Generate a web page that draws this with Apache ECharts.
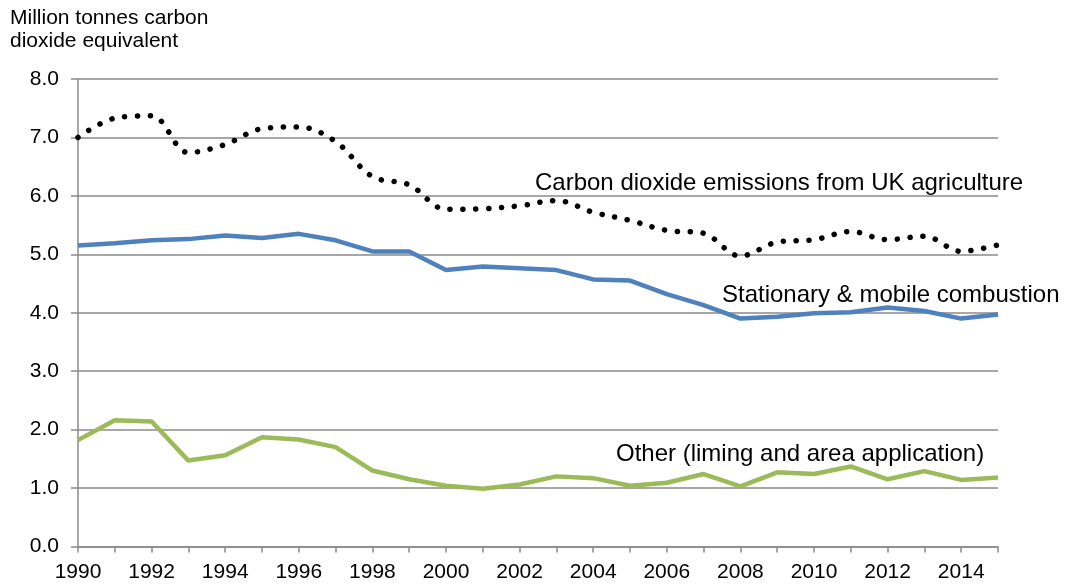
<!DOCTYPE html>
<html>
<head>
<meta charset="utf-8">
<script src="https://cdn.jsdelivr.net/npm/echarts@6/dist/echarts.min.js"></script>
<style>
  html, body { margin: 0; padding: 0; background: #fff; }
  #chart { width: 1065px; height: 587px; }
</style>
</head>
<body>
<div id="chart"></div>
<script>
const years = ['1990', '1991', '1992', '1993', '1994', '1995', '1996', '1997', '1998', '1999',
  '2000', '2001', '2002', '2003', '2004', '2005', '2006', '2007', '2008', '2009',
  '2010', '2011', '2012', '2013', '2014', '2015']

// total CO2 from agriculture (dotted)
const totalEmissions = [7.00, 7.33, 7.37, 6.74, 6.88, 7.15, 7.18, 6.93, 6.33, 6.19,
  5.77, 5.78, 5.83, 5.92, 5.72, 5.58, 5.41, 5.36, 4.97, 5.21,
  5.25, 5.39, 5.25, 5.31, 5.05, 5.16]

const combustion = [5.15, 5.19, 5.24, 5.26, 5.32, 5.28, 5.35, 5.24, 5.05, 5.05,
  4.73, 4.79, 4.76, 4.73, 4.57, 4.55, 4.32, 4.13, 3.90, 3.93,
  3.99, 4.01, 4.09, 4.03, 3.90, 3.97]

const other = [1.82, 2.16, 2.14, 1.47, 1.56, 1.87, 1.83, 1.70, 1.30, 1.15,
  1.04, 0.99, 1.06, 1.20, 1.17, 1.04, 1.09, 1.24, 1.03, 1.27,
  1.24, 1.37, 1.15, 1.29, 1.14, 1.18]

const font = 'Liberation Sans, Arial, sans-serif'
const gridGrey = '#8a8a8a'

const chart = echarts.init(document.getElementById('chart'))

chart.setOption({
  animation: false,
  backgroundColor: '#fff',
  grid: { left: 78, right: 67, top: 79, bottom: 40.5 },
  xAxis: {
    type: 'category',
    data: years,
    boundaryGap: false,
    axisLine: { lineStyle: { color: gridGrey, width: 1.5 } },
    axisTick: { interval: 0, length: 6, lineStyle: { color: gridGrey, width: 1.5 } },
    axisLabel: { interval: 1, color: '#000', fontFamily: font, fontSize: 21, margin: 15 },
    splitLine: { show: false },
  },
  yAxis: {
    type: 'value',
    min: 0,
    max: 8,
    interval: 1,
    axisLine: { show: true, lineStyle: { color: gridGrey, width: 1.5 } },
    axisTick: { show: true, length: 7, lineStyle: { color: gridGrey, width: 1.5 } },
    axisLabel: {
      color: '#000', fontFamily: font, fontSize: 21, margin: 19,
      formatter: (v) => v.toFixed(1),
    },
    splitLine: { lineStyle: { color: gridGrey, width: 1.5 } },
  },
  series: [
    {
      name: 'Carbon dioxide emissions from UK agriculture',
      type: 'line',
      data: totalEmissions,
      smooth: 0.35,
      symbol: 'none',
      lineStyle: { color: '#000', width: 5.5, type: [0.1, 12.8], cap: 'round' },
      z: 3,
    },
    {
      name: 'Stationary & mobile combustion',
      type: 'line',
      data: combustion,
      symbol: 'none',
      lineStyle: { color: '#4f81bd', width: 4.5 },
    },
    {
      name: 'Other (liming and area application)',
      type: 'line',
      data: other,
      symbol: 'none',
      lineStyle: { color: '#9bbb59', width: 4.5 },
    },
  ],
  graphic: [
    {
      type: 'text', left: 10, top: 7,
      style: { text: 'Million tonnes carbon\ndioxide equivalent', fontFamily: font, fontSize: 21, lineHeight: 23, fill: '#000' },
    },
    {
      type: 'text', x: 535, y: 183,
      style: { text: 'Carbon dioxide emissions from UK agriculture', fontFamily: font, fontSize: 24, fill: '#000', verticalAlign: 'middle' },
    },
    {
      type: 'text', x: 722, y: 295,
      style: { text: 'Stationary & mobile combustion', fontFamily: font, fontSize: 24, fill: '#000', verticalAlign: 'middle' },
    },
    {
      type: 'text', x: 616, y: 454,
      style: { text: 'Other (liming and area application)', fontFamily: font, fontSize: 24, fill: '#000', verticalAlign: 'middle' },
    },
  ],
})
</script>
</body>
</html>
